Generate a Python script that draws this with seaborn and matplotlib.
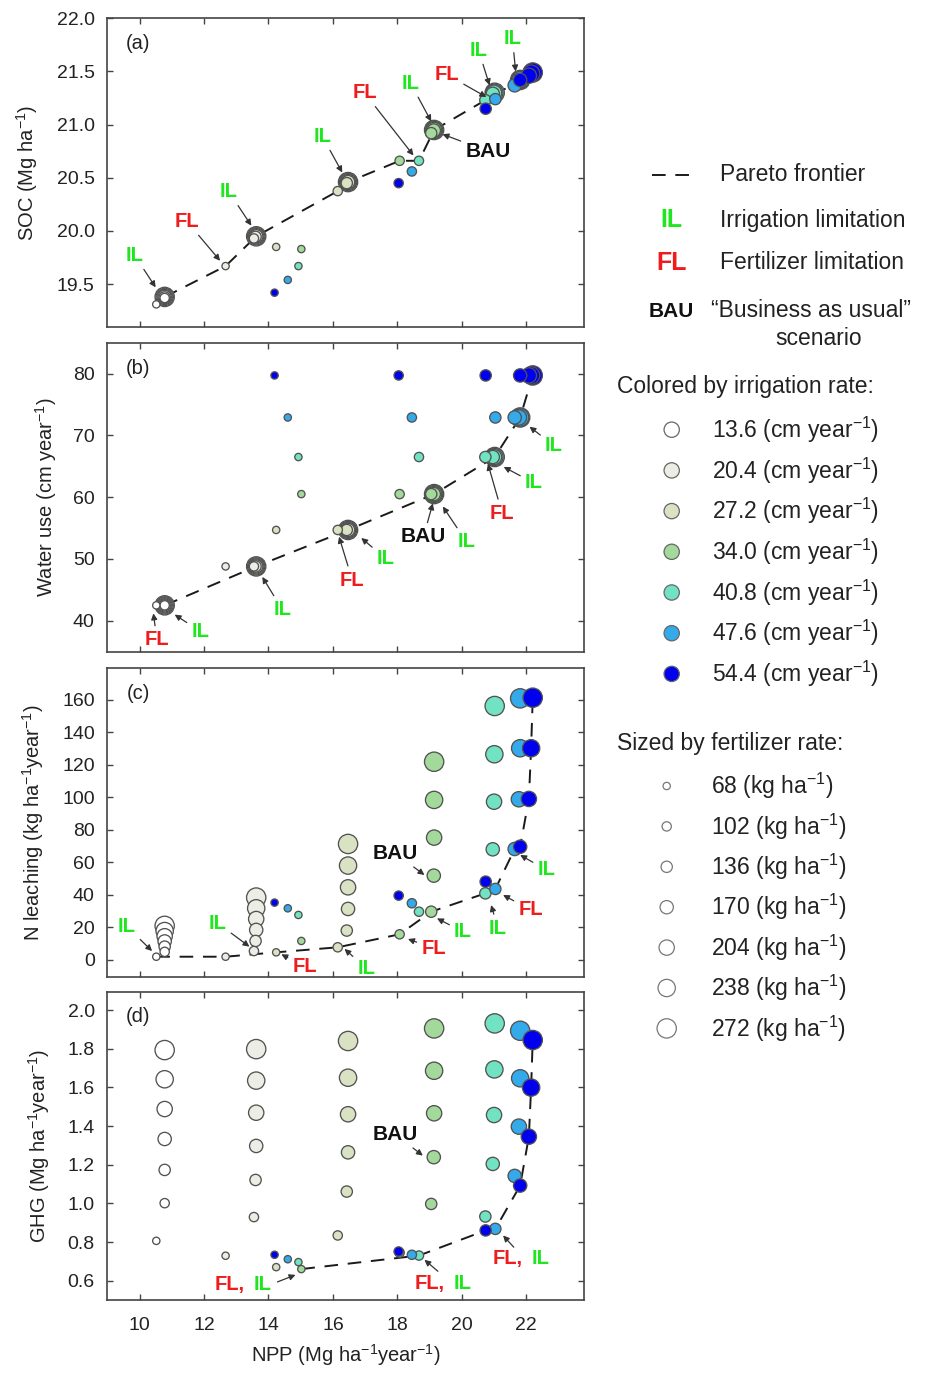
import matplotlib
matplotlib.use("Agg")
import matplotlib.pyplot as plt
import numpy as np
import pandas as pd
import seaborn as sns

# ---------------- data ----------------
IRRIGATION = [13.6, 20.4, 27.2, 34.0, 40.8, 47.6, 54.4]          # cm year-1
FERTILIZER = [68, 102, 136, 170, 204, 238, 272]                  # kg ha-1
IRR_COLORS = ['#ffffff', '#eceee6', '#d9e2c2', '#a3d99a', '#72e3c2', '#35aaea', '#0000ee']

# rows: irrigation level, columns: fertilizer level
NPP = [
    [10.52, 10.78, 10.78, 10.78, 10.78, 10.78, 10.78],
    [12.67, 13.55, 13.60, 13.62, 13.62, 13.62, 13.62],
    [14.24, 16.15, 16.43, 16.47, 16.47, 16.47, 16.47],
    [15.02, 18.07, 19.05, 19.13, 19.14, 19.14, 19.14],
    [14.93, 18.67, 20.73, 20.96, 21.00, 21.01, 21.02],
    [14.60, 18.45, 21.04, 21.64, 21.77, 21.81, 21.81],
    [14.19, 18.04, 20.74, 21.81, 22.08, 22.15, 22.20],
]
SOC = [
    [19.31, 19.37, 19.375, 19.38, 19.38, 19.38, 19.38],
    [19.67, 19.93, 19.945, 19.95, 19.95, 19.95, 19.95],
    [19.85, 20.375, 20.45, 20.46, 20.46, 20.46, 20.46],
    [19.83, 20.66, 20.92, 20.945, 20.95, 20.95, 20.95],
    [19.67, 20.66, 21.23, 21.29, 21.30, 21.30, 21.30],
    [19.54, 20.56, 21.24, 21.37, 21.41, 21.42, 21.42],
    [19.42, 20.45, 21.15, 21.42, 21.46, 21.48, 21.49],
]
WATER_USE = [42.5, 48.8, 54.7, 60.5, 66.5, 72.9, 79.7]          # per irrigation level
N_LEACHING = [
    [2.0, 5.0, 8.2, 11.4, 14.6, 17.8, 21.0],
    [2.0, 5.5, 11.7, 18.5, 25.2, 31.8, 38.4],
    [4.7, 7.8, 18.1, 31.4, 44.7, 58.1, 71.4],
    [11.7, 15.8, 29.7, 51.9, 75.3, 98.5, 122.0],
    [27.7, 29.7, 41.0, 68.1, 97.4, 126.6, 156.3],
    [31.8, 34.9, 43.7, 68.3, 98.9, 130.3, 161.0],
    [35.3, 39.6, 48.2, 69.7, 99.1, 130.3, 161.4],
]
GHG = [
    [0.806, 1.001, 1.173, 1.333, 1.488, 1.642, 1.793],
    [0.729, 0.929, 1.121, 1.297, 1.469, 1.635, 1.798],
    [0.670, 0.834, 1.061, 1.264, 1.461, 1.650, 1.840],
    [0.660, 0.745, 0.997, 1.239, 1.466, 1.686, 1.905],
    [0.696, 0.730, 0.932, 1.204, 1.457, 1.693, 1.931],
    [0.711, 0.734, 0.868, 1.142, 1.397, 1.647, 1.893],
    [0.734, 0.751, 0.860, 1.092, 1.345, 1.599, 1.845],
]

# Pareto frontier members (irrigation index, fertilizer index), in drawing order
PARETO_A = [(0, 6), (1, 0), (1, 6), (2, 1), (2, 6), (3, 1), (4, 1), (3, 6), (4, 2), (4, 6), (5, 3), (6, 3), (6, 6)]
PARETO_B = [(0, 6), (1, 6), (2, 6), (3, 6), (4, 6), (5, 6), (6, 6)]
PARETO_C = [(0, 0), (1, 0), (2, 0), (2, 1), (3, 1), (3, 2), (4, 2), (5, 2), (5, 3), (6, 3), (6, 4), (6, 5), (6, 6)]
PARETO_D = [(3, 0), (4, 1), (6, 2), (5, 2), (6, 3), (6, 4), (6, 5), (6, 6)]

# ---------------- style ----------------
sns.set_style("ticks")
plt.rcParams['font.family'] = ['Liberation Sans', 'DejaVu Sans']
plt.rcParams['mathtext.fontset'] = 'custom'
plt.rcParams['mathtext.rm'] = 'Liberation Sans'
plt.rcParams['mathtext.it'] = 'Liberation Sans:italic'
plt.rcParams['mathtext.bf'] = 'Liberation Sans:bold'

GREEN = '#1fe61f'
RED = '#ee1c1c'
BLACK = '#111111'
EDGE = '#525252'

rows = []
for i, irr in enumerate(IRRIGATION):
    for j in reversed(range(len(FERTILIZER))):
        rows.append(dict(irr=irr, fert=FERTILIZER[j], NPP=NPP[i][j], SOC=SOC[i][j],
                         WATER=WATER_USE[i], NL=N_LEACHING[i][j], GHG=GHG[i][j]))
df = pd.DataFrame(rows)

palette = dict(zip(IRRIGATION, IRR_COLORS))
diam_px = [7.3 + 2 * k for k in range(len(FERTILIZER))]
sizes = {f: (d * 0.72) ** 2 for f, d in zip(FERTILIZER, diam_px)}

fig = plt.figure(figsize=(9.25, 13.75), dpi=100)
L, Wd = 107.3 / 925, 477 / 925
panel_px = [(18.3, 326.7), (343.3, 651.7), (668.3, 976.7), (991.7, 1300.0)]
axes = [fig.add_axes([L, 1 - b / 1375, Wd, (b - t) / 1375]) for t, b in panel_px]

cols = ['SOC', 'WATER', 'NL', 'GHG']
ylabels = ['SOC (Mg ha$^{-1}$)', 'Water use (cm year$^{-1}$)',
           'N leaching (kg ha$^{-1}$year$^{-1}$)', 'GHG (Mg ha$^{-1}$year$^{-1}$)']
ylims = [(19.1, 22.0), (35.0, 84.9), (-10.3, 179.5), (0.5, 2.095)]
yticks = [np.arange(19.5, 22.01, 0.5), np.arange(40, 81, 10), np.arange(0, 161, 20), np.arange(0.6, 2.01, 0.2)]
yfmt = ['%.1f', '%d', '%d', '%.1f']
paretos = [PARETO_A, PARETO_B, PARETO_C, PARETO_D]
letters = ['(a)', '(b)', '(c)', '(d)']
label_x = [-0.141, -0.102, -0.129, -0.115]


def value(col, i, j):
    if col == 'SOC':
        return SOC[i][j]
    if col == 'WATER':
        return WATER_USE[i]
    if col == 'NL':
        return N_LEACHING[i][j]
    return GHG[i][j]


LABELS = [
    [('IL', GREEN, (9.85, 19.77), (10.50, 19.47)),
     ('FL', RED, (11.47, 20.09), (12.50, 19.72)),
     ('IL', GREEN, (12.77, 20.37), (13.47, 20.05)),
     ('IL', GREEN, (15.67, 20.89), (16.29, 20.55)),
     ('FL', RED, (16.98, 21.30), (18.50, 20.71)),
     ('IL', GREEN, (18.41, 21.39), (19.05, 21.03)),
     ('BAU', BLACK, (20.81, 20.75), (19.40, 20.91)),
     ('FL', RED, (19.54, 21.47), (20.76, 21.26)),
     ('IL', GREEN, (20.52, 21.70), (20.86, 21.37)),
     ('IL', GREEN, (21.57, 21.81), (21.67, 21.50))],
    [('FL', RED, (10.54, 36.9), (10.43, 41.2)),
     ('IL', GREEN, (11.88, 38.3), (11.09, 41.0)),
     ('IL', GREEN, (14.43, 41.8), (13.81, 47.1)),
     ('FL', RED, (16.60, 46.6), (16.19, 53.6)),
     ('IL', GREEN, (17.63, 50.1), (16.88, 53.4)),
     ('BAU', BLACK, (18.81, 53.6), (19.10, 59.0)),
     ('IL', GREEN, (20.14, 52.8), (19.41, 58.5)),
     ('FL', RED, (21.25, 57.4), (20.81, 65.4)),
     ('IL', GREEN, (22.23, 62.3), (21.30, 64.9)),
     ('IL', GREEN, (22.85, 68.4), (22.10, 71.4))],
    [('IL', GREEN, (9.61, 20.5), (10.39, 5.5)),
     ('IL', GREEN, (12.43, 22.6), (13.41, 8.2)),
     ('FL', RED, (15.12, -4.1), (14.40, 3.5)),
     ('IL', GREEN, (17.03, -5.1), (16.36, 6.8)),
     ('FL', RED, (19.12, 7.2), (18.33, 12.9)),
     ('BAU', BLACK, (17.94, 65.6), (18.84, 52.3)),
     ('IL', GREEN, (20.03, 17.4), (19.23, 25.6)),
     ('IL', GREEN, (21.12, 19.5), (20.91, 33.8)),
     ('FL', RED, (22.13, 30.8), (21.28, 40.0)),
     ('IL', GREEN, (22.62, 55.4), (21.81, 64.6))],
    [('BAU', BLACK, (17.94, 1.357), (18.79, 1.247))],
]
# combined "FL, IL" labels in panel (d): split point, arrow start, arrow tip
COMBO_D = [((13.36, 0.579), (14.24, 0.591), (14.84, 0.630)),
           ((19.56, 0.587), (19.29, 0.644), (18.84, 0.708)),
           ((21.98, 0.713), (21.64, 0.768), (21.28, 0.834))]

arrowprops = dict(arrowstyle='-|>', color='#333333', lw=0.9, mutation_scale=9, shrinkA=1, shrinkB=0)

for k, ax in enumerate(axes):
    col = cols[k]
    px = [NPP[i][j] for i, j in paretos[k]]
    py = [value(col, i, j) for i, j in paretos[k]]
    ax.plot(px, py, color='#1a1a1a', lw=1.4, linestyle=(0, (7, 5)), zorder=1.5)
    sns.scatterplot(data=df, x='NPP', y=col, hue='irr', palette=palette, size='fert', sizes=sizes,
                    edgecolor=EDGE, linewidth=0.95, legend=False, ax=ax, zorder=2)
    ax.set_xlim(9.0, 23.8)
    ax.set_ylim(*ylims[k])
    ax.set_xticks(np.arange(10, 23, 2))
    ax.set_yticks(yticks[k])
    ax.yaxis.set_major_formatter(matplotlib.ticker.FormatStrFormatter(yfmt[k]))
    ax.tick_params(direction='in', top=True, right=True, length=4, width=1.0, color='#444444',
                   labelsize=14, labelcolor='#222222')
    ax.tick_params(axis='y', pad=9)
    ax.tick_params(axis='x', pad=12)
    for s in ax.spines.values():
        s.set_color('#444444')
        s.set_linewidth(1.2)
    ax.set_ylabel(ylabels[k], fontsize=14.5, color='#222222')
    ax.yaxis.set_label_coords(label_x[k], 0.5)
    if k < 3:
        ax.set_xlabel('')
        ax.set_xticklabels([])
    else:
        ax.set_xlabel('NPP (Mg ha$^{-1}$year$^{-1}$)', fontsize=14.5, color='#222222', labelpad=6)
    ax.text(0.065, 0.918, letters[k], transform=ax.transAxes, ha='center', va='center',
            fontsize=14.5, color='#222222')
    for txt, c, txy, tip in LABELS[k]:
        ax.annotate(txt, xy=tip, xytext=txy, ha='center', va='center', color=c,
                    fontsize=15 if txt == 'BAU' else 14.5, fontweight='bold',
                    arrowprops=arrowprops, zorder=5)
    if k == 3:
        for split, start, tip in COMBO_D:
            ax.annotate('FL,', xy=split, xytext=(-2, 0), textcoords='offset points', ha='right',
                        va='center', color=RED, fontsize=14.5, fontweight='bold')
            ax.annotate('IL', xy=split, xytext=(4, 0), textcoords='offset points', ha='left',
                        va='center', color=GREEN, fontsize=14.5, fontweight='bold')
            ax.annotate('', xy=tip, xytext=start, arrowprops=arrowprops)

# ---------------- legend (pixel layout) ----------------
lax = fig.add_axes([0, 0, 1, 1], zorder=-1)
lax.set_xlim(0, 925)
lax.set_ylim(1375, 0)
lax.axis('off')
LFS = 16.5
lax.plot([652, 693], [174.5, 174.5], color='#1a1a1a', lw=1.4, linestyle=(0, (7, 5)))
lax.text(720, 174.5, 'Pareto frontier', fontsize=LFS, va='center', ha='left', color='#222222')
lax.text(671.7, 220, 'IL', fontsize=18, fontweight='bold', color=GREEN, ha='center', va='center')
lax.text(720, 220, 'Irrigation limitation', fontsize=LFS, va='center', ha='left', color='#222222')
lax.text(671.7, 262.6, 'FL', fontsize=18, fontweight='bold', color=RED, ha='center', va='center')
lax.text(720, 262.6, 'Fertilizer limitation', fontsize=LFS, va='center', ha='left', color='#222222')
lax.text(671.7, 311, 'BAU', fontsize=15, fontweight='bold', color=BLACK, ha='center', va='center')
lax.text(711, 310, '\u201cBusiness as usual\u201d', fontsize=LFS, va='center', ha='left', color='#222222')
lax.text(819, 338, 'scenario', fontsize=LFS, va='center', ha='center', color='#222222')
lax.text(617, 386, 'Colored by irrigation rate:', fontsize=LFS, va='center', ha='left', color='#222222')
irr_y = [429.7 + 40.7 * k for k in range(len(IRRIGATION))]
lax.scatter([671.7] * len(IRRIGATION), irr_y, s=(15.3 * 0.72) ** 2, c=IRR_COLORS,
            edgecolors='#666666', linewidths=0.9)
for y, irr in zip(irr_y, IRRIGATION):
    lax.text(712, y, f'{irr:.1f} (cm year$^{{-1}}$)', fontsize=LFS, va='center', ha='left', color='#222222')
lax.text(617, 743, 'Sized by fertilizer rate:', fontsize=LFS, va='center', ha='left', color='#222222')
fert_y = [786 + 40.4 * k for k in range(len(FERTILIZER))]
lax.scatter([666.7] * len(FERTILIZER), fert_y, s=[sizes[f] for f in FERTILIZER], c='white',
            edgecolors='#777777', linewidths=0.9)
for y, f in zip(fert_y, FERTILIZER):
    lax.text(711, y, f'{f} (kg ha$^{{-1}}$)', fontsize=LFS, va='center', ha='left', color='#222222')

fig.savefig('out.png', dpi=100)
